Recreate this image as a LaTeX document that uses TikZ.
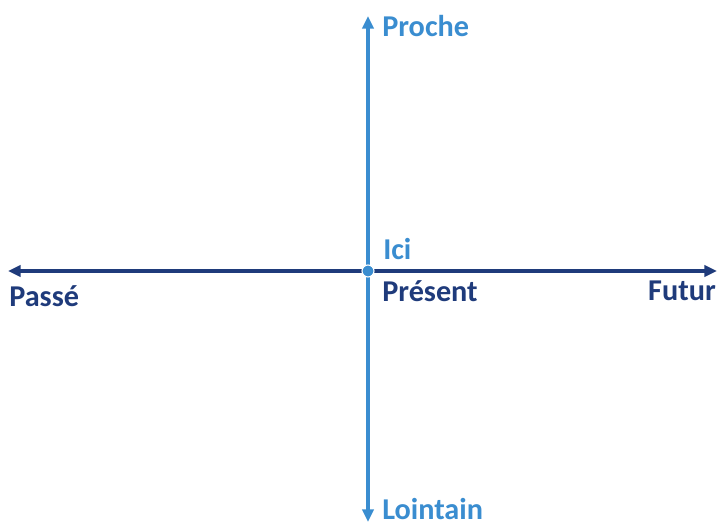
\documentclass[tikz,border=0pt]{standalone}
\usepackage{fontspec}
\setmainfont{Carlito}
\usepackage{xcolor}
\usepackage{tikz}
\usetikzlibrary{arrows.meta, positioning}

\definecolor{navy}{HTML}{1F3B7B}
\definecolor{sky}{HTML}{3A8DD0}

\begin{document}
\begin{tikzpicture}[
			x=0.025cm, y=-0.025cm,
			every node/.style={font=\fontsize{21.5}{24}\selectfont\bfseries, inner sep=0pt},
			timeaxis/.style={
				{Triangle[length=9pt,width=8pt]}-{Triangle[length=9pt,width=8pt]},
				line width=2.8pt, draw=navy
			},
			spaceaxis/.style={
				{Triangle[length=9pt,width=8pt]}-{Triangle[length=9pt,width=8pt]},
				line width=2.2pt, draw=sky
			},
			timelabel/.style={text=navy},
			spacelabel/.style={text=sky}
			]
			
			\useasboundingbox (0,0) rectangle (717,526);
			
			\coordinate (origin) at (368,271);
			\coordinate (west) at (8,271);
			\coordinate (east) at (717,271);
			\coordinate (north) at (368,16);
			\coordinate (south) at (368,522);
			
			\draw[timeaxis] (west) -- (east);
			\draw[spaceaxis] (south) -- (north);
			\fill[sky, draw=white, line width=0.8pt] (origin) circle (6);
			
			\node[spacelabel, anchor=base west] (proche) at (382,36) {Proche};
			\node[spacelabel, anchor=base west] (ici) at (383,259) {Ici};
			\node[timelabel, anchor=base west] (present) at (382,301) {Présent};
			\node[timelabel, anchor=base west] (passe) at (9,306) {Passé};
			\node[timelabel, anchor=base east] (futur) at (716,300) {Futur};
			\node[spacelabel, anchor=base west] (lointain) at (382,519) {Lointain};
		\end{tikzpicture}
\end{document}
